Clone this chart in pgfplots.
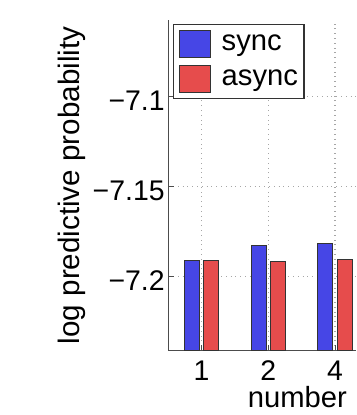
\documentclass[border=0pt]{standalone}
\usepackage{fontspec}
\setmainfont{Liberation Sans}
\usepackage{pgfplots}
\pgfplotsset{compat=1.18}
\usetikzlibrary{calc}
\definecolor{bblue}{RGB}{70,70,230}
\definecolor{bred}{RGB}{230,76,76}
\begin{document}
\fontsize{14}{16}\selectfont
\begin{tikzpicture}
\begin{axis}[name=ax,
  scale only axis, width=93.85pt, height=165.35pt,
  xmin=0.5, xmax=3.314,
  ymin=-7.241, ymax=-7.0574,
  y coord trafo/.code={\pgfmathparse{#1+7.25}},
  y coord inv trafo/.code={\pgfmathparse{#1-7.25}},
  axis x line*=bottom, axis y line*=left,
  axis line style={black!70, line width=0.6pt},
  xtick={1,2,3}, xticklabels={1,2,4},
  ytick={-7.2,-7.15,-7.1}, yticklabels={−7.2,−7.15,−7.1},
  tick align=inside, major tick length=3pt,
  tick style={black!70, line width=0.5pt},
  grid=major, grid style={dotted, black!35, line width=0.6pt},
  xticklabel style={anchor=base, yshift=-14.65pt, font=\fontsize{14.2}{16}\selectfont},
  yticklabel style={anchor=east, inner sep=0pt, xshift=-1.65pt, yshift=-2pt, font=\fontsize{14.2}{16}\selectfont},
  ylabel={log predictive probability},
  ylabel style={at={($(rel axis cs:0,0.5)+(-48pt,0)$)}, anchor=center, rotate=0, font=\fontsize{14.8}{16}\selectfont},
  xlabel={number},
  xlabel style={at={($(rel axis cs:0.688,0)+(0,-28.15pt)$)}, anchor=base, font=\fontsize{14.6}{16}\selectfont},
  legend style={at={(rel axis cs:0,1)}, anchor=north west, xshift=2.35pt, yshift=-2pt,
    draw=black!80, line width=0.7pt, inner xsep=2.5pt, inner ysep=1pt,
    font=\fontsize{14.6}{17}\selectfont, row sep=0pt, column sep=5pt,
    nodes={inner xsep=0.5pt, inner ysep=1.5pt, text height=10.5pt, text depth=4pt}},
  legend cell align=left,
  legend image code/.code={\draw[#1] (0pt,-6.75pt) rectangle (15.5pt,6.75pt);},
]
\addplot[ybar, bar width=7.5pt, bar shift=-4.8pt, fill=bblue, draw=black!80, line width=0.5pt]
  coordinates {(1,-7.1911) (2,-7.1825) (3,-7.1817)};
\addlegendentry{sync}
\addplot[ybar, bar width=7.5pt, bar shift=4.8pt, fill=bred, draw=black!80, line width=0.5pt]
  coordinates {(1,-7.1911) (2,-7.1913) (3,-7.1902)};
\addlegendentry{async}
\end{axis}
\pgfresetboundingbox
\path[use as bounding box] ($(ax.south west)+(-84.15pt,-32.15pt)$) rectangle ($(ax.north east)+(0pt,10pt)$);
\end{tikzpicture}
\end{document}
